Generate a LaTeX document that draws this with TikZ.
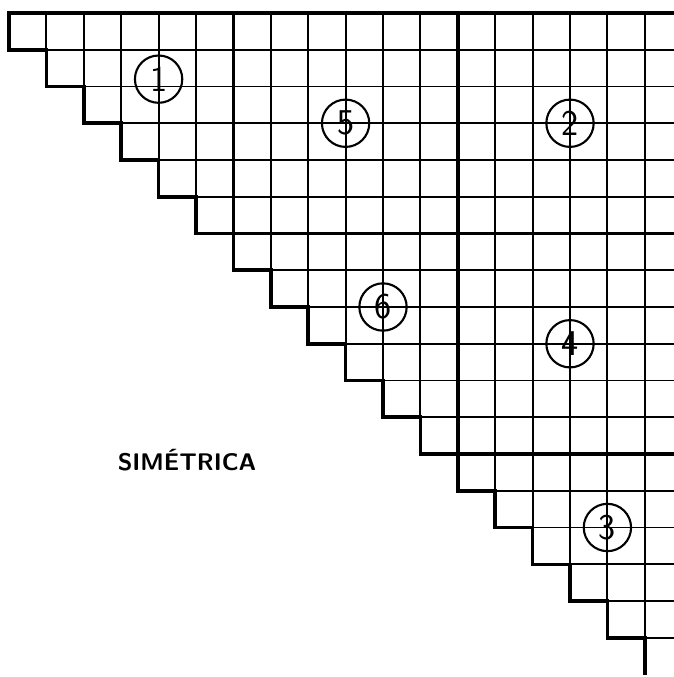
\documentclass[tikz,border=0pt]{standalone}
\usepackage{tikz}

\begin{document}
\begin{tikzpicture}[x=1.122cm,y=-1.1025cm,
  gridline/.style={line width=1.6pt},
  heavyline/.style={line width=3pt,line join=miter},
  blocknum/.style={circle,draw,line width=1.8pt,minimum size=1.42cm,inner sep=0pt,
    font=\sffamily\fontsize{31}{31}\selectfont}]
\useasboundingbox (-0.2406,-0.3537) rectangle (17.78,18.068);
\clip (-0.2406,-0.3537) rectangle (17.78,18.068);
% thin cells of the upper triangle
\foreach \k in {1,...,17} {
  \draw[gridline] (\k,0) -- (\k,\k);
  \draw[gridline] (\k,\k) -- (18.5,\k);
}
% outline and staircase
\draw[heavyline] (18.5,0) -- (0,0) -- (0,1)
  \foreach \k in {1,...,17} { -- (\k,\k) -- (\k,\k+1) };
% block boundaries
\draw[heavyline] (6,0) -- (6,6) -- (18.5,6);
\draw[heavyline] (12,0) -- (12,12) -- (18.5,12);
% block numbers
\node[blocknum] (b1) at (4,1.8) {1};
\node[blocknum] (b5) at (9,3) {5};
\node[blocknum] (b2) at (15,3) {2};
\node[blocknum] (b6) at (10,8) {6};
\node[blocknum] (b4) at (15,9) {4};
\node[blocknum] (b3) at (16,14) {3};
\node[anchor=base,font=\sffamily\bfseries\fontsize{20.5}{20.5}\selectfont] (sim) at (4.76,12.44) {SIMÉTRICA};
\end{tikzpicture}
\end{document}
